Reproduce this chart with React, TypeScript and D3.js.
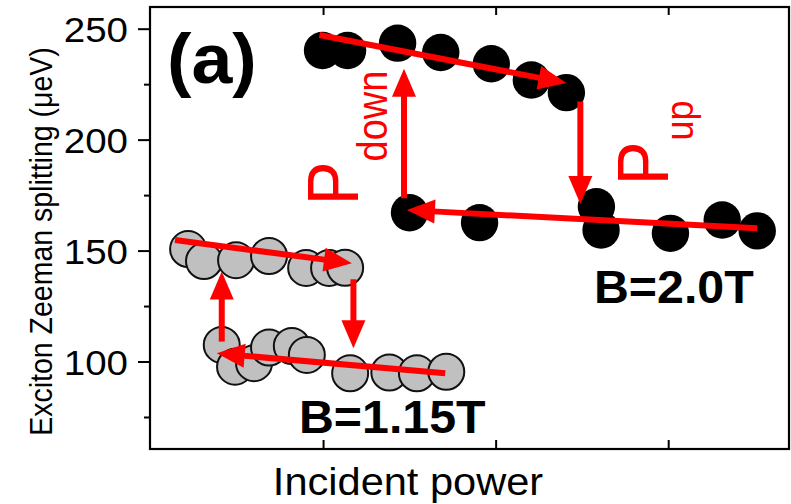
import React from "react";
import * as d3 from "d3";

// Exciton Zeeman splitting vs. incident power, two magnetic fields (hysteresis loops)
const blackUpX = [0.994, 1.139, 1.429, 1.679, 1.972, 2.204, 2.407];
const blackUpY = [240.4, 240.4, 243.7, 239.5, 234.4, 227.1, 221.4];
const blackDownX = [1.498, 1.904, 2.581, 2.608, 3.01, 3.31, 3.513];
const blackDownY = [167.3, 162.8, 170.0, 159.5, 158.0, 164.0, 159.1];

const grayUpX = [0.215, 0.307, 0.493, 0.684, 0.899, 1.032, 1.125];
const grayUpY = [150.9, 145.5, 145.9, 147.8, 142.4, 142.4, 142.5];
const grayDownX = [0.41, 0.487, 0.597, 0.684, 0.816, 0.903, 1.154, 1.381, 1.541, 1.711];
const grayDownY = [107.7, 97.9, 99.5, 106.5, 107.2, 103.2, 94.9, 95.3, 94.9, 95.6];

// sweep arrows: [x0, y0, x1, y1] in data units (tip at x1, y1)
const blackArrows = [
  [0.976, 247.4, 2.407, 225.7],
  [2.488, 217.4, 2.488, 171.2],
  [3.513, 160.3, 1.483, 168.5],
  [1.466, 173.8, 1.466, 232.2],
];
const grayArrows = [
  [0.139, 155.0, 1.164, 144.5],
  [1.173, 137.3, 1.173, 106.2],
  [1.705, 94.9, 0.381, 103.9],
  [0.41, 109.2, 0.41, 140.8],
];

const yMajorTicks = [100, 150, 200, 250];
const yMinorTicks = [75, 125, 175, 225];
const xTicks = [1, 2, 3];

const FONT = "'Liberation Sans', Arial, Helvetica, sans-serif";
const RED = "#ff0000";

export default function App() {
  const W = 791;
  const H = 504;
  const x = d3.scaleLinear().domain([0, 3.7]).range([151, 789.5]);
  const y = d3.scaleLinear().domain([60.8, 260]).range([449, 7]);
  const [x0, x1] = [150, 789];
  const [yTop, yBot] = [7, 449];

  const arrow = (a: number[], key: string) => {
    const sx = x(a[0]), sy = y(a[1]), tx = x(a[2]), ty = y(a[3]);
    const dx = tx - sx, dy = ty - sy;
    const len = Math.hypot(dx, dy);
    const ux = dx / len, uy = dy / len;
    const L = 28, Wd = 24;
    const bx = tx - ux * L, by = ty - uy * L;
    const nx = -uy, ny = ux;
    const pts = [
      [tx, ty],
      [bx + nx * Wd / 2, by + ny * Wd / 2],
      [bx - nx * Wd / 2, by - ny * Wd / 2],
    ];
    return (
      <g key={key}>
        <line x1={sx} y1={sy} x2={bx + ux * 2} y2={by + uy * 2} stroke={RED} strokeWidth={6} />
        <polygon points={pts.map((p) => p.join(",")).join(" ")} fill={RED} />
      </g>
    );
  };

  const grayPts = [
    ...grayUpX.map((v, i) => [v, grayUpY[i]]),
    ...grayDownX.map((v, i) => [v, grayDownY[i]]),
  ];
  const blackPts = [
    ...blackUpX.map((v, i) => [v, blackUpY[i]]),
    ...blackDownX.map((v, i) => [v, blackDownY[i]]),
  ];

  return (
    <svg
      width={W}
      height={H}
      style={{ position: "absolute", left: 0, top: 0, background: "#fff" }}
      fontFamily={FONT}
    >
      <rect width={W} height={H} fill="#fff" />

      {/* data markers */}
      {grayPts.map((p, i) => (
        <circle key={"g" + i} cx={x(p[0])} cy={y(p[1])} r={18} fill="#c0c0c0" stroke="#111" strokeWidth={2} />
      ))}
      {blackPts.map((p, i) => (
        <circle key={"b" + i} cx={x(p[0])} cy={y(p[1])} r={18.7} fill="#000" />
      ))}

      {/* sweep direction arrows */}
      {blackArrows.map((a, i) => arrow(a, "ba" + i))}
      {grayArrows.map((a, i) => arrow(a, "ga" + i))}

      {/* frame */}
      <rect x={x0} y={yTop} width={x1 - x0} height={yBot - yTop} fill="none" stroke="#000" strokeWidth={2.2} />

      {/* y ticks */}
      {yMajorTicks.map((t) => (
        <g key={"ym" + t}>
          <line x1={x0 - 12} x2={x0} y1={y(t)} y2={y(t)} stroke="#000" strokeWidth={2} />
          <text
            transform={`translate(128, ${y(t) + 12.5}) scale(1.1, 1)`}
            textAnchor="end"
            fontSize={35}
            fill="#000"
          >
            {t}
          </text>
        </g>
      ))}
      {yMinorTicks.map((t) => (
        <line key={"yn" + t} x1={x0 - 6} x2={x0} y1={y(t)} y2={y(t)} stroke="#000" strokeWidth={2} />
      ))}

      {/* x ticks (inward, top and bottom) */}
      {xTicks.map((t) => (
        <g key={"xt" + t}>
          <line x1={x(t)} x2={x(t)} y1={yBot} y2={yBot - 9} stroke="#000" strokeWidth={2} />
          <line x1={x(t)} x2={x(t)} y1={yTop} y2={yTop + 8} stroke="#000" strokeWidth={2} />
        </g>
      ))}

      {/* axis titles */}
      <text
        transform={`translate(52, 241.5) rotate(-90) scale(1, 1.1)`}
        textAnchor="middle"
        fontSize={28.5}
        fill="#000"
      >
        Exciton Zeeman splitting (μeV)
      </text>
      <text
        transform={`translate(408, 495) scale(1.08, 1)`}
        textAnchor="middle"
        fontSize={38.5}
        fill="#000"
      >
        Incident power
      </text>

      {/* panel label and field labels */}
      <text transform="translate(167, 83) scale(1.05, 1)" fontSize={70} fontWeight="bold" fill="#000">
        (a)
      </text>
      <text transform="translate(594, 303) scale(1.05, 1)" fontSize={46} fontWeight="bold" fill="#000">
        B=2.0T
      </text>
      <text transform="translate(299, 433) scale(1.05, 1)" fontSize={46} fontWeight="bold" fill="#000">
        B=1.15T
      </text>

      {/* P_down / P_up annotations */}
      <text transform="translate(358, 205) rotate(-90) scale(1, 1.1)" fontSize={65} fill={RED}>
        P
      </text>
      <text transform="translate(386.5, 161.5) rotate(-90) scale(1, 1.1)" fontSize={38} fill={RED}>
        down
      </text>
      <text transform="translate(668, 185) rotate(-90) scale(1, 1.1)" fontSize={65} fill={RED}>
        P
      </text>
      <text transform="translate(693, 140.5) rotate(-90) scale(1, 1.1)" fontSize={36} fill={RED}>
        up
      </text>
    </svg>
  );
}
